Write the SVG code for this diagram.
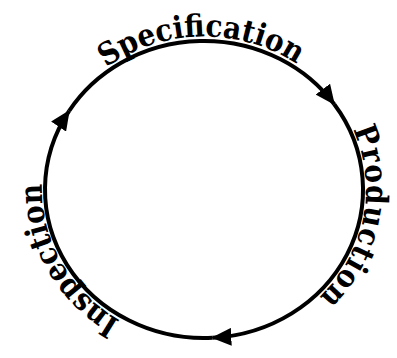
<svg xmlns="http://www.w3.org/2000/svg" width="397" height="358" viewBox="0 0 397 358">
  <style>
    .cyc { fill: none; stroke: #000; stroke-width: 4; marker-end: url(#arr); }
    .lbl { font-family: "DejaVu Serif", "Liberation Serif", serif; font-weight: bold; font-stretch: condensed; font-size: 31px; fill: #000; }
  </style>
  <defs>
    <marker id="arr" markerUnits="userSpaceOnUse" viewBox="0 0 20 18" refX="19" refY="9" markerWidth="20" markerHeight="18" orient="auto">
      <path d="M0,0 L20,9 L0,18 Z" fill="#000"/>
    </marker>
    <path id="tp" d="M204,342.5 A162 153 0 0 1 204,36.5 A162 153 0 0 1 204,342.5"/>
  </defs>
  <g id="connectors">
    <path class="cyc" d="M69.16,110.81 A159 148.5 0 0 1 334.25,104.32"/>
    <path class="cyc" d="M334.25,104.32 A159 148.5 0 0 1 212.32,337.8"/>
    <path class="cyc" d="M212.32,337.8 A159 148.5 0 0 1 69.16,110.81"/>
  </g>
  <g id="specification">
    <text class="lbl"><textPath href="#tp" startOffset="49.7%" text-anchor="middle">Specification</textPath></text>
  </g>
  <g id="production">
    <text class="lbl" letter-spacing="1"><textPath href="#tp" startOffset="78%" text-anchor="middle">Production</textPath></text>
  </g>
  <g id="inspection">
    <text class="lbl"><textPath href="#tp" startOffset="17.2%" text-anchor="middle">Inspection</textPath></text>
  </g>
</svg>
